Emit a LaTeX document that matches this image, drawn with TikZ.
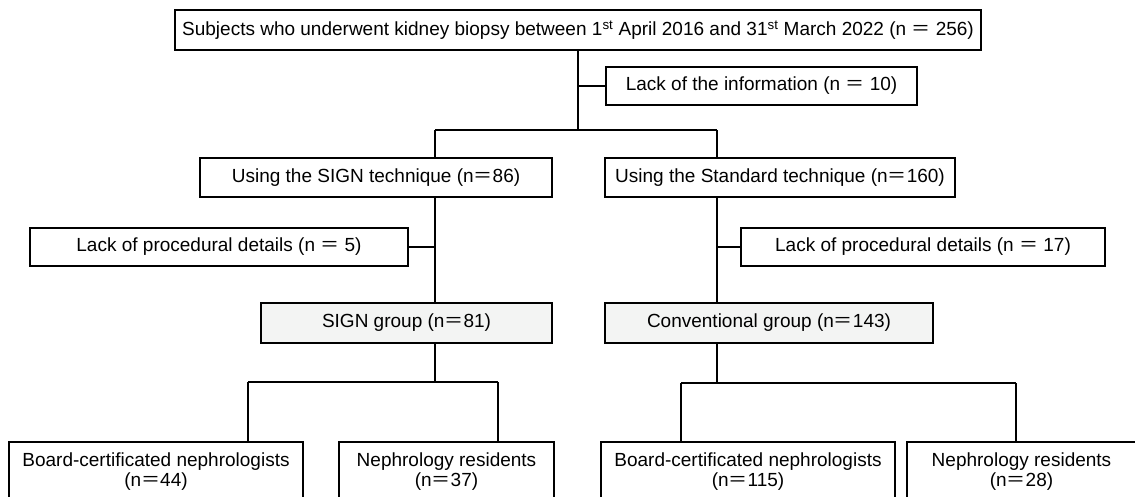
\documentclass[tikz,border=0pt]{standalone}
\usepackage{fontspec}
\setmainfont{Liberation Sans}
\newfontfamily\cjkfont{Noto Sans CJK JP}
\newcommand{\feq}{{\cjkfont ＝}}
\definecolor{grpgray}{RGB}{243,244,243}
\tikzset{
  box/.style={draw, line width=2pt, inner sep=0pt, align=center, font=\fontsize{19}{20}\selectfont},
  grp/.style={box, fill=grpgray},
  link/.style={line width=1.7pt},
  thinlink/.style={line width=1.1pt}
}

\begin{document}
\begin{tikzpicture}[x=1pt, y=-1pt]
\useasboundingbox (0,0) rectangle (1135,496);
\clip (0,0) rectangle (1135,496);

\node[box, minimum width=806, minimum height=40] (subj) at (578,30) {Subjects who underwent kidney biopsy between 1\textsuperscript{st} April 2016 and 31\textsuperscript{st} March 2022 (n \feq{} 256)};
\node[box, minimum width=311, minimum height=38] (info) at (761.5,86) {Lack of the information (n \feq{} 10)};

\node[box, minimum width=352, minimum height=39] (signt) at (376,177.5) {Using the SIGN technique (n\feq86)};
\node[box, minimum width=350, minimum height=39] (stdt) at (780,177.5) {Using the Standard technique (n\feq160)};

\node[box, minimum width=378, minimum height=38] (exl) at (219,247) {Lack of procedural details (n \feq{} 5)};
\node[box, minimum width=364, minimum height=38] (exr) at (923,247) {Lack of procedural details (n \feq{} 17)};

\node[grp, minimum width=291, minimum height=40] (signg) at (406.5,323) {SIGN group (n\feq81)};
\node[grp, minimum width=328, minimum height=40] (convg) at (769,323) {Conventional group (n\feq143)};

% bottom row, cut off by the page edge
\node[box, anchor=north, minimum width=294, minimum height=60] (bcl) at (156,441) {Board-certificated nephrologists\\(n\feq44)};
\node[box, anchor=north, minimum width=215, minimum height=60] (resl) at (446.5,441) {Nephrology residents\\(n\feq37)};
\node[box, anchor=north, minimum width=294, minimum height=60] (bcr) at (748,441) {Board-certificated nephrologists\\(n\feq115)};
\node[box, anchor=north, minimum width=229, minimum height=60] (resr) at (1021.5,441) {Nephrology residents\\(n\feq28)};

\coordinate (top) at (578,130);
\coordinate (sl) at (435,130);
\coordinate (sr) at (717,130);
\coordinate (bl) at (435,382);
\coordinate (bl1) at (248,382);
\coordinate (bl2) at (498,382);
\coordinate (br) at (717,383);
\coordinate (br1) at (681,383);
\coordinate (br2) at (1016,383);

\draw[link] (subj) -- (top);
\draw[link] (info.west) -- (info.west -| top);
\draw[link] (sl) -- (sr);
\draw[link] (sl) -- (sl |- signt.north);
\draw[link] (sr) -- (sr |- stdt.north);
\draw[link] (sl |- signt.south) -- (sl |- signg.north);
\draw[link] (sr |- stdt.south) -- (sr |- convg.north);
\draw[link] (exl.east) -- (exl.east -| sl);
\draw[link] (exr.west) -- (exr.west -| sr);

\draw[link] (signg.south -| bl) -- (bl);
\draw[thinlink] (bl1) -- (bl2);
\draw[link] (bl1) -- (bl1 |- bcl.north);
\draw[link] (bl2) -- (bl2 |- resl.north);

\draw[thinlink] (convg.south -| br) -- (br);
\draw[link] (br1) -- (br2);
\draw[link] (br1) -- (br1 |- bcr.north);
\draw[link] (br2) -- (br2 |- resr.north);
\end{tikzpicture}
\end{document}
